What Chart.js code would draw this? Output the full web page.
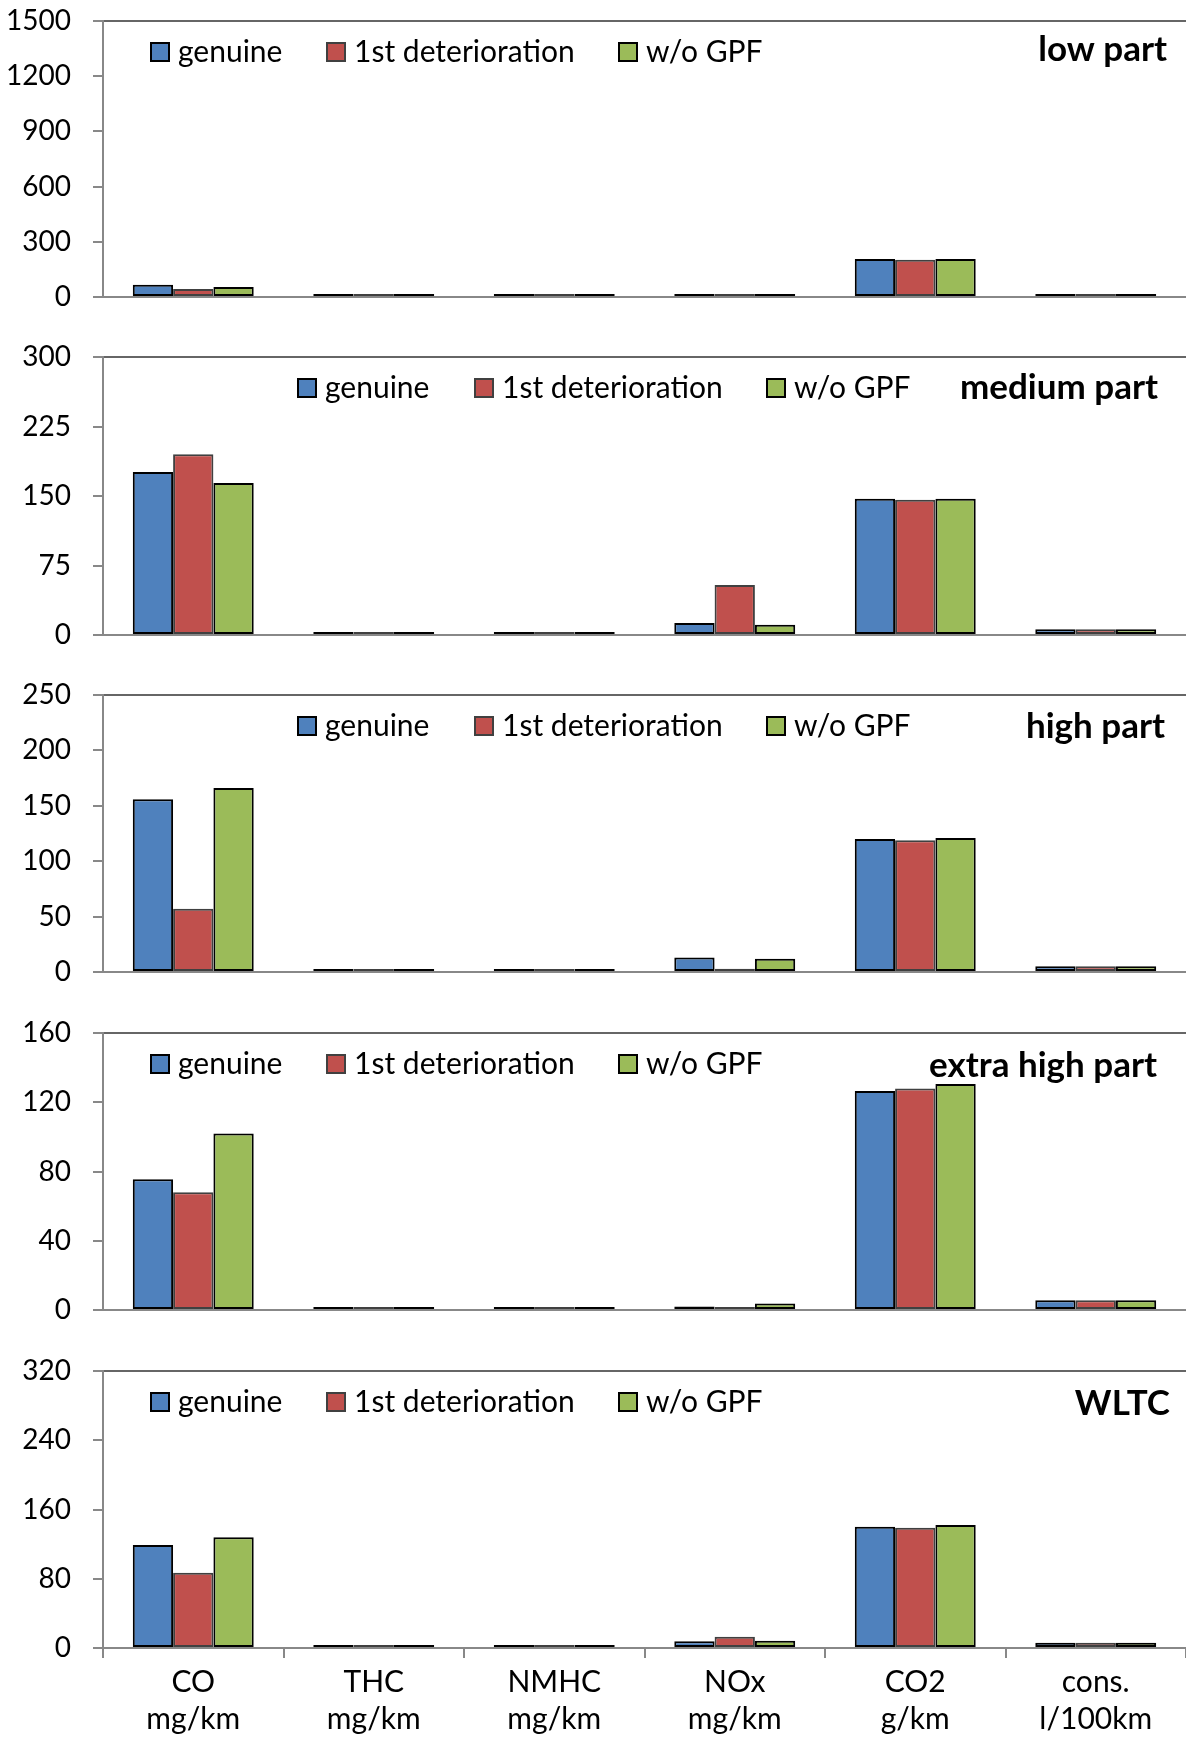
<!DOCTYPE html>
<html>
<head>
<meta charset="utf-8">
<script src="https://cdn.jsdelivr.net/npm/chart.js@4.4.1/dist/chart.umd.min.js"></script>
<style>
  body { margin: 0; background: #fff; width: 1186px; height: 1737px; position: relative; overflow: hidden; }
  canvas { position: absolute; left: 0; }
</style>
</head>
<body>
<canvas id="c0"></canvas>
<canvas id="c1"></canvas>
<canvas id="c2"></canvas>
<canvas id="c3"></canvas>
<canvas id="c4"></canvas>
<script>
// categories and series
const categories = [['CO', 'mg/km'], ['THC', 'mg/km'], ['NMHC', 'mg/km'], ['NOx', 'mg/km'], ['CO2', 'g/km'], ['cons.', 'l/100km']];
const seriesNames = ['genuine', '1st deterioration', 'w/o GPF'];
const panelTitles = ['low part', 'medium part', 'high part', 'extra high part', 'WLTC'];
const yMax = [1500, 300, 250, 160, 320];
const yStep = [300, 75, 50, 40, 80];

// low part
const lowGenuine = [66, 8, 6, 5, 206, 8.8];
const lowDeter = [44, 9, 7, 4, 203, 8.7];
const lowNoGpf = [55, 7, 5, 10, 207, 8.9];
// medium part
const medGenuine = [176, 2.5, 1.5, 13, 147, 6.3];
const medDeter = [195, 3, 2, 54, 146, 6.2];
const medNoGpf = [164, 2, 1.2, 11, 147, 6.3];
// high part
const highGenuine = [156, 1, 0.8, 13, 120, 5.2];
const highDeter = [57, 1.2, 1, 3, 119, 5.2];
const highNoGpf = [166, 0.9, 0.7, 12, 121, 5.3];
// extra high part
const xhighGenuine = [75.5, 0.6, 0.5, 2, 126.5, 5.6];
const xhighDeter = [68, 0.8, 0.6, 1.4, 128, 5.6];
const xhighNoGpf = [102, 0.6, 0.5, 3.8, 130.5, 5.7];
// WLTC
const wltcGenuine = [119, 1.8, 1.3, 7.7, 140, 6];
const wltcDeter = [87, 2.8, 2.2, 13, 139, 6];
const wltcNoGpf = [128, 1.8, 1.3, 8.5, 142, 6.1];

const series = [
  [lowGenuine, lowDeter, lowNoGpf],
  [medGenuine, medDeter, medNoGpf],
  [highGenuine, highDeter, highNoGpf],
  [xhighGenuine, xhighDeter, xhighNoGpf],
  [wltcGenuine, wltcDeter, wltcNoGpf]
];

const fills = ['#4f81bd', '#c0504d', '#9bbb59'];
const edges = ['#000000', '#404040', '#000000'];

// layout of the five stacked panels
const plotTop = [21, 357, 695, 1033, 1371];
const plotH = [276, 278, 277, 277, 277];
const legendX = [[151, 327, 619], [298, 475, 767], [298, 475, 767], [151, 327, 619], [151, 327, 619]];
const titleRight = [1167, 1158, 1165, 1157, 1170];
const titleBase = [40, 42, 43, 44, 44];

const panelDecor = {
  id: 'panelDecor',
  afterDraw(chart, args, opts) {
    const {ctx, chartArea} = chart;
    ctx.save();
    ctx.font = '30px Lato';
    ctx.textBaseline = 'middle';
    ctx.textAlign = 'left';
    const y = chartArea.top + 30;
    chart.data.datasets.forEach((ds, k) => {
      const x = opts.legendX[k];
      ctx.fillStyle = ds.backgroundColor;
      ctx.fillRect(x, y - 8, 18, 18);
      ctx.lineWidth = 2;
      ctx.strokeStyle = ds.borderColor;
      ctx.strokeRect(x, y - 8, 18, 18);
      ctx.fillStyle = '#000';
      ctx.fillText(ds.label, x + 27, y + 1);
    });
    ctx.font = 'bold 35px Lato';
    ctx.textAlign = 'right';
    ctx.textBaseline = 'alphabetic';
    ctx.fillText(opts.title, opts.titleRight, chartArea.top + opts.titleBase);
    ctx.restore();
  }
};

function buildPanel(i) {
  const canvas = document.getElementById('c' + i);
  const isLast = i === 4;
  const h = isLast ? 1737 - (plotTop[i] - 21) : 21 + plotH[i] + 20;
  canvas.width = 1186;
  canvas.height = h;
  canvas.style.top = (plotTop[i] - 21) + 'px';

  new Chart(canvas, {
    type: 'bar',
    data: {
      labels: categories,
      datasets: series[i].map((vals, k) => ({
        label: seriesNames[k],
        data: vals,
        backgroundColor: fills[k],
        borderColor: edges[k],
        borderWidth: 2,
        borderSkipped: false,
        minBarLength: 3,
        categoryPercentage: 0.67,
        barPercentage: 1
      }))
    },
    options: {
      responsive: false,
      animation: false,
      devicePixelRatio: 1,
      layout: {padding: {top: 21, bottom: isLast ? 0 : 20, left: 0, right: 0}},
      plugins: {
        legend: {display: false},
        tooltip: {enabled: false},
        panelDecor: {legendX: legendX[i], title: panelTitles[i], titleRight: titleRight[i], titleBase: titleBase[i]}
      },
      scales: {
        x: {
          grid: {display: isLast, drawOnChartArea: false, drawTicks: isLast, tickLength: 10, color: '#888', lineWidth: 2, offset: true},
          border: {display: true, color: '#888', width: 2},
          ticks: {display: isLast, font: {family: 'Lato', size: 30, lineHeight: 1.22}, color: '#000', padding: 6, maxRotation: 0, autoSkip: false},
          afterFit: function (s) {
            if (isLast) s.height = h - 21 - plotH[i];
            s.paddingLeft = 0; s.paddingRight = 0;
          }
        },
        xTop: {
          type: 'category',
          position: 'top',
          grid: {display: false, drawTicks: false},
          ticks: {display: false},
          border: {display: true, color: '#666', width: 2}
        },
        y: {
          min: 0,
          max: yMax[i],
          ticks: {
            stepSize: yStep[i],
            font: {family: 'Lato', size: 28},
            color: '#000',
            padding: 22,
            callback: function (v) { return String(v); }
          },
          grid: {drawOnChartArea: false, tickLength: 10, color: '#888', lineWidth: 2},
          border: {color: '#888', width: 2},
          afterFit: function (s) {
            s.width = 103;
            s.paddingTop = 0; s.paddingBottom = 0;
          }
        }
      }
    },
    plugins: [panelDecor]
  });
}

Promise.all([document.fonts.load('30px Lato'), document.fonts.load('bold 35px Lato')])
  .catch(function (e) { console.log(e); })
  .then(function () {
    for (let i = 0; i < 5; i++) buildPanel(i);
  });
</script>
</body>
</html>
